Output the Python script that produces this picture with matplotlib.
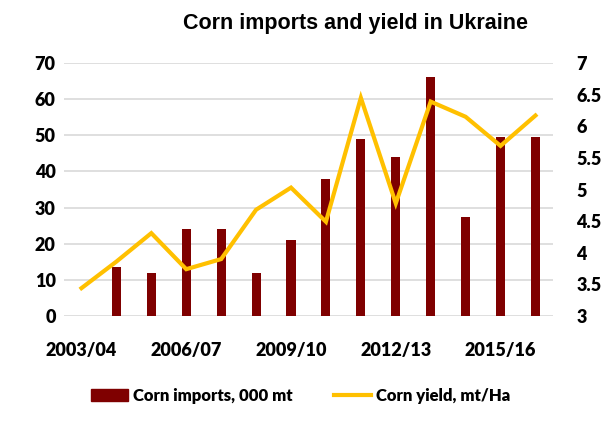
import numpy as np
import matplotlib
matplotlib.use("Agg")
import matplotlib.pyplot as plt
from matplotlib.lines import Line2D
from matplotlib.patches import Patch

seasons = ["2003/04", "2004/05", "2005/06", "2006/07", "2007/08", "2008/09", "2009/10",
           "2010/11", "2011/12", "2012/13", "2013/14", "2014/15", "2015/16", "2016/17"]
imports = [0, 13.5, 12, 24, 24, 12, 21, 38, 49, 44, 66, 27.5, 49.5, 49.5]
yields = [3.44, 3.86, 4.31, 3.74, 3.9, 4.68, 5.03, 4.49, 6.45, 4.78, 6.39, 6.15, 5.69, 6.17]

bar_color = "#7f0000"
line_color = "#ffc000"
plt.rcParams["font.family"] = ["Lato", "DejaVu Sans"]

fig = plt.figure(figsize=(6.01, 4.23), dpi=100)
ax = fig.add_axes([0.1065, 0.253, 0.8135, 0.598])
x = np.arange(len(seasons))

ax.bar(x, imports, width=0.26, color=bar_color, zorder=2)
ax.set_ylim(0, 70)
ax.set_yticks(range(0, 71, 10))
ax.set_xlim(-0.5, len(seasons) - 0.5)
ax.set_xticks(x[::3])
ax.set_xticklabels(seasons[::3])
ax.grid(axis="y", color="#d9d9d9", linewidth=1.2, zorder=0)
for s in ax.spines.values():
    s.set_visible(False)
ax.tick_params(length=0, labelsize=13)
ax.tick_params(axis="y", pad=6)
ax.tick_params(axis="x", pad=19)
for t in ax.get_xticklabels() + ax.get_yticklabels():
    t.set_fontweight("heavy")

ax2 = ax.twinx()
ax2.plot(x, yields, color=line_color, linewidth=3, solid_joinstyle="miter", zorder=3)
ax2.set_ylim(3, 7)
ax2.set_yticks(np.arange(3, 7.01, 0.5))
ax2.set_yticklabels(["3", "3.5", "4", "4.5", "5", "5.5", "6", "6.5", "7"])
for s in ax2.spines.values():
    s.set_visible(False)
ax2.tick_params(length=0, labelsize=13, pad=17)
for t in ax2.get_yticklabels():
    t.set_fontweight("heavy")

fig.text(0.592, 0.945, "Corn imports and yield in Ukraine", ha="center", va="center",
         fontsize=15.5, fontweight="bold", family=["Liberation Sans", "DejaVu Sans"])

handles = [Patch(color=bar_color, label="Corn imports, 000 mt"),
           Line2D([0], [0], color=line_color, linewidth=3, label="Corn yield, mt/Ha")]
fig.legend(handles=handles, loc="center", bbox_to_anchor=(0.5, 0.065), ncol=2,
           frameon=False, prop={"size": 12, "weight": "heavy"}, columnspacing=2.5,
           handlelength=2.2, handletextpad=0.3)

fig.savefig("out.png", dpi=100)
